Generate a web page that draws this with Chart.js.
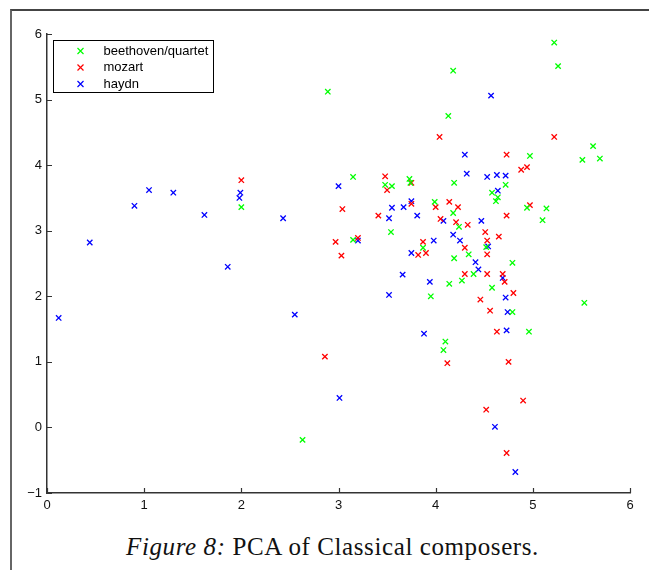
<!DOCTYPE html>
<html>
<head>
<meta charset="utf-8">
<script src="https://cdn.jsdelivr.net/npm/chart.js@4/dist/chart.umd.min.js"></script>
<style>
  html, body { margin: 0; padding: 0; background: #fff; }
  #frame { position: absolute; left: 10px; top: 9px; width: 660px; height: 600px;
           border-top: 2px solid #444; border-left: 2px solid #666; }
  #wrap { position: absolute; left: 0; top: 0; width: 649px; height: 520px; }
  #caption { position: absolute; left: 0; width: 665px; top: 533px; text-align: center;
             font-family: "Liberation Serif", "DejaVu Serif", serif; font-size: 25px;
             letter-spacing: 0.6px; color: #111; }
</style>
</head>
<body>
<div id="frame"></div>
<div id="wrap"><canvas id="myChart"></canvas></div>
<div id="caption"><i>Figure 8:</i> PCA of Classical composers.</div>
<script>
// series
var seriesNames = ['beethoven/quartet', 'mozart', 'haydn'];
var seriesColors = ['#00ff00', '#ff0000', '#0000ff'];

var beethovenX = [2.89, 2.00, 2.63, 4.14, 4.27, 4.39, 3.95, 4.58, 4.79, 5.53, 4.96, 4.10, 4.08, 5.22, 5.26,
  4.18, 4.13, 5.62, 5.51, 5.69, 4.97, 3.15, 3.48, 3.55, 3.73, 3.74, 4.19, 4.72, 4.58, 4.64,
  4.62, 3.99, 4.94, 5.14, 4.18, 4.24, 5.10, 3.54, 3.15, 3.87, 4.52, 4.34, 4.19, 4.79];
var beethovenY = [5.12, 3.36, -0.19, 2.19, 2.24, 2.34, 2.00, 2.13, 1.76, 1.90, 1.46, 1.31, 1.18, 5.87, 5.51,
  5.44, 4.75, 4.29, 4.08, 4.10, 4.14, 3.82, 3.70, 3.68, 3.79, 3.73, 3.73, 3.70, 3.58, 3.51,
  3.45, 3.44, 3.35, 3.34, 3.27, 3.06, 3.16, 2.98, 2.86, 2.74, 2.75, 2.64, 2.58, 2.51];

var mozartX = [2.00, 2.86, 4.30, 4.53, 4.69, 4.71, 4.46, 4.80, 4.56, 4.63, 4.12, 4.75, 4.90, 4.52, 4.73,
  4.04, 5.22, 4.73, 4.88, 4.94, 3.48, 3.50, 3.75, 3.04, 3.75, 4.00, 4.14, 4.23, 4.97, 3.41,
  4.05, 4.21, 4.33, 4.73, 4.51, 4.65, 2.97, 3.03, 3.20, 3.87, 3.82, 3.90, 4.53, 4.53, 4.30];
var mozartY = [3.77, 1.08, 2.34, 2.34, 2.34, 2.22, 1.95, 2.05, 1.78, 1.46, 0.98, 1.00, 0.41, 0.27, -0.39,
  4.43, 4.43, 4.16, 3.93, 3.97, 3.83, 3.62, 3.73, 3.33, 3.41, 3.36, 3.44, 3.36, 3.39, 3.23,
  3.18, 3.13, 3.09, 3.23, 2.98, 2.91, 2.83, 2.62, 2.89, 2.83, 2.63, 2.66, 2.85, 2.64, 2.74];

var haydnX = [0.44, 0.90, 1.05, 1.30, 1.62, 1.86, 1.99, 1.98, 2.43, 0.12, 2.55, 3.66, 3.94, 4.69, 3.52,
  4.72, 4.74, 3.88, 4.73, 3.01, 4.61, 4.82, 4.57, 4.30, 3.00, 4.32, 4.53, 4.63, 4.72, 4.64,
  3.55, 3.67, 3.75, 3.52, 3.81, 4.08, 4.47, 4.18, 3.20, 3.98, 4.25, 3.75, 4.54, 4.41, 4.44];
var haydnY = [2.82, 3.38, 3.62, 3.58, 3.24, 2.45, 3.58, 3.50, 3.19, 1.67, 1.72, 2.33, 2.22, 2.28, 2.02,
  1.98, 1.76, 1.43, 1.48, 0.45, 0.01, -0.68, 5.06, 4.16, 3.68, 3.87, 3.82, 3.85, 3.84, 3.61,
  3.35, 3.36, 3.45, 3.19, 3.23, 3.15, 3.15, 2.94, 2.85, 2.85, 2.85, 2.66, 2.76, 2.52, 2.41];

var xTicks = [0, 1, 2, 3, 4, 5, 6];
var yTicks = [-1, 0, 1, 2, 3, 4, 5, 6];

function toPoints(xs, ys) {
  var pts = [];
  for (var i = 0; i < xs.length; i++) {
    pts.push({ x: xs[i], y: ys[i] });
  }
  return pts;
}

var allX = [beethovenX, mozartX, haydnX];
var allY = [beethovenY, mozartY, haydnY];
var datasets = [];
for (var s = 0; s < seriesNames.length; s++) {
  datasets.push({
    label: seriesNames[s],
    data: toPoints(allX[s], allY[s]),
    pointStyle: 'crossRot',
    radius: 3.8,
    borderWidth: 1.3,
    borderColor: seriesColors[s],
    backgroundColor: seriesColors[s]
  });
}

// matlab style ticks pointing into the plot
var inwardTicks = {
  id: 'inwardTicks',
  afterDraw: function (chart) {
    var ctx = chart.ctx;
    var xs = chart.scales.x, ys = chart.scales.y;
    ctx.save();
    ctx.strokeStyle = '#333';
    ctx.lineWidth = 1.2;
    ctx.beginPath();
    xs.ticks.forEach(function (t) {
      var p = Math.round(xs.getPixelForValue(t.value)) + 0.5;
      ctx.moveTo(p, ys.bottom);
      ctx.lineTo(p, ys.bottom - 5);
    });
    ys.ticks.forEach(function (t) {
      var p = Math.round(ys.getPixelForValue(t.value)) + 0.5;
      ctx.moveTo(xs.left, p);
      ctx.lineTo(xs.left + 5, p);
    });
    ctx.stroke();
    ctx.restore();
  }
};

// boxed legend in the top left corner
var boxLegend = {
  id: 'boxLegend',
  afterDraw: function (chart) {
    var ctx = chart.ctx;
    var a = chart.chartArea;
    var bx = a.left + 6.5, by = a.top + 6.5, bw = 160, bh = 52;
    ctx.save();
    ctx.fillStyle = '#fff';
    ctx.fillRect(bx, by, bw, bh);
    ctx.strokeStyle = '#000';
    ctx.lineWidth = 1;
    ctx.strokeRect(bx, by, bw, bh);
    ctx.font = '13px "Liberation Sans", Arial, sans-serif';
    ctx.textBaseline = 'middle';
    chart.data.datasets.forEach(function (ds, i) {
      var cy = by + 10.5 + i * 16.5;
      var cx = bx + 27;
      ctx.strokeStyle = ds.borderColor;
      ctx.lineWidth = 1.2;
      ctx.beginPath();
      ctx.moveTo(cx - 3, cy - 3); ctx.lineTo(cx + 3, cy + 3);
      ctx.moveTo(cx - 3, cy + 3); ctx.lineTo(cx + 3, cy - 3);
      ctx.stroke();
      ctx.fillStyle = '#000';
      ctx.fillText(ds.label, bx + 50, cy);
    });
    ctx.restore();
  }
};

var ctx = document.getElementById('myChart').getContext('2d');
new Chart(ctx, {
  type: 'scatter',
  data: { datasets: datasets },
  options: {
    responsive: true,
    maintainAspectRatio: false,
    animation: false,
    layout: { padding: { left: 0, right: 19, top: 34, bottom: 7 } },
    plugins: {
      legend: { display: false },
      tooltip: { enabled: false }
    },
    scales: {
      x: {
        type: 'linear',
        min: 0, max: 6,
        afterFit: function (scale) { scale.height = 20; },
        afterBuildTicks: function (scale) {
          scale.ticks = xTicks.map(function (v) { return { value: v }; });
        },
        grid: { display: false, drawTicks: false },
        border: { display: true, color: '#333', width: 1.5 },
        ticks: {
          padding: 5,
          color: '#111',
          font: { family: '"Liberation Sans", Arial, sans-serif', size: 13 },
          callback: function (v) { return String(v).replace('-', '\u2212'); }
        }
      },
      y: {
        type: 'linear',
        min: -1, max: 6,
        afterFit: function (scale) { scale.width = 47; },
        afterBuildTicks: function (scale) {
          scale.ticks = yTicks.map(function (v) { return { value: v }; });
        },
        grid: { display: false, drawTicks: false },
        border: { display: true, color: '#333', width: 1.5 },
        ticks: {
          padding: 5,
          color: '#111',
          font: { family: '"Liberation Sans", Arial, sans-serif', size: 13 },
          callback: function (v) { return String(v).replace('-', '\u2212'); }
        }
      }
    }
  },
  plugins: [inwardTicks, boxLegend]
});
</script>
</body>
</html>
